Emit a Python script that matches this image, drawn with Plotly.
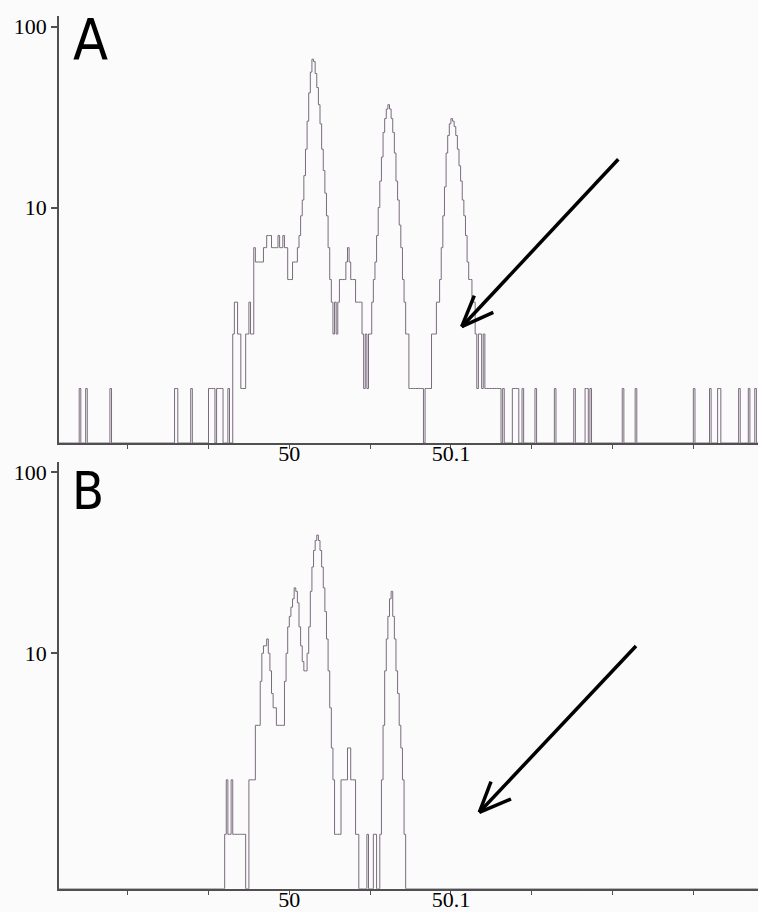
import numpy as np
import plotly.graph_objects as go

BIN_WIDTH = 0.001
X_MIN, X_MAX = 49.8575, 50.290
ZERO_LEVEL = 0.5  # empty bins are drawn on the log-axis floor

# ---------------- Panel A ----------------
a_dense_start = 49.965
a_dense_counts = [
    2, 3, 3, 2, 2, 1, 1, 1, 2, 2,
    3, 2, 2, 6, 5, 5, 5, 5, 5, 6,
    6, 7, 7, 7, 6, 6, 6, 6, 7, 6,
    6, 7, 6, 6, 4, 4, 4, 5, 5, 5,
    6, 7, 9, 11, 15, 21, 30, 43, 56, 66,
    64, 55, 46, 37, 29, 21, 16, 12, 9, 6,
    4, 3, 2, 3, 2, 3, 4, 4, 4, 4,
    5, 6, 5, 4, 4, 4, 3, 3, 3, 3,
    2, 1, 2, 1, 2, 2, 3, 4, 5, 7,
    10, 14, 19, 26, 31, 35, 37, 35, 31, 26,
    20, 14, 11, 8, 6, 4, 3, 2, 2, 1,
    1, 1, 1, 1, 1, 1, 1, 1, 0, 1,
    1, 1, 1, 2, 2, 2, 3, 3, 4, 6,
    9, 13, 20, 25, 29, 31, 30, 28, 25, 21,
    17, 14, 11, 9, 7, 5, 4, 4, 3, 3,
    2, 1, 2, 2, 1, 2, 1, 1, 1, 1,
    1, 1, 1, 1, 1, 1,
]
# isolated bins with a single count
a_single_freqs = [
    49.870, 49.874, 49.889, 49.929, 49.930, 49.939,
    49.950, 49.951, 49.952, 49.953, 49.955, 49.956, 49.957, 49.958, 49.962,
    50.132, 50.138, 50.139, 50.140, 50.141, 50.144, 50.152, 50.164, 50.176,
    50.183, 50.184, 50.186, 50.206, 50.214, 50.250, 50.260, 50.265, 50.266,
    50.278, 50.284, 50.288,
]

# ---------------- Panel B ----------------
b_dense_start = 49.960
b_dense_counts = [
    1, 2, 1, 1, 2, 1, 1, 1, 1, 1,
    1, 1, 1, 0, 0, 2, 2, 2, 2, 4,
    4, 4, 7, 10, 11, 11, 12, 10, 8, 6,
    5, 5, 4, 4, 4, 4, 4, 7, 10, 14,
    16, 18, 20, 23, 22, 19, 14, 11, 9, 8,
    8, 10, 14, 22, 30, 37, 42, 45, 42, 37,
    30, 23, 17, 12, 8, 5, 3, 2, 1, 1,
    1, 1, 2, 2, 2, 2, 3, 3, 2, 2,
    2, 1, 1, 0, 0, 0, 0, 0, 1, 0,
    0, 0, 1, 1, 0, 0, 1, 2, 4, 8,
    12, 16, 20, 22, 16, 12, 8, 6, 4, 3,
    2, 1,
]
b_single_freqs = []

# axis ticks
x_tickvals = [49.9, 49.95, 50.0, 50.05, 50.1, 50.15, 50.2, 50.25]
x_ticktext = ["", "", "50", "", "50.1", "", "", ""]
y_tickvals = [10, 100]
y_ticktext = ["10", "100"]
panel_labels = ["A", "B"]


def build_step(dense_start, dense_counts, single_freqs):
    n_bins = int(round((X_MAX - X_MIN) / BIN_WIDTH)) + 2
    origin = np.floor(X_MIN / BIN_WIDTH) * BIN_WIDTH
    counts = np.zeros(n_bins)
    s = int(round((dense_start - origin) / BIN_WIDTH))
    counts[s:s + len(dense_counts)] = dense_counts
    for f in single_freqs:
        counts[int(round((f - origin) / BIN_WIDTH))] = 1
    edges = origin + BIN_WIDTH * np.arange(n_bins + 1)
    vals = np.where(counts > 0, counts, ZERO_LEVEL)
    vals = np.append(vals, vals[-1])
    return edges, vals


LINE_COLOR = "#7a6b7c"
fig = go.Figure()
xa, ya = build_step(a_dense_start, a_dense_counts, a_single_freqs)
xb, yb = build_step(b_dense_start, b_dense_counts, b_single_freqs)
fig.add_trace(go.Scatter(x=xa, y=ya, mode="lines", xaxis="x", yaxis="y",
                         line=dict(shape="hv", color=LINE_COLOR, width=1),
                         showlegend=False, hoverinfo="skip"))
fig.add_trace(go.Scatter(x=xb, y=yb, mode="lines", xaxis="x2", yaxis="y2",
                         line=dict(shape="hv", color=LINE_COLOR, width=1),
                         showlegend=False, hoverinfo="skip"))

W, H = 758, 912
tick_font = dict(family="Liberation Serif, Times New Roman, serif", size=22, color="black")
AXIS_COLOR = "#505050"
x_dom = [59 / W, 1.0]
yA_dom = [1 - 443 / H, 1 - 16.2 / H]
yB_dom = [1 - 888.8 / H, 1 - 462 / H]
y_range = [np.log10(ZERO_LEVEL), 2.057]

xcommon = dict(range=[X_MIN, X_MAX], domain=x_dom, showgrid=False, zeroline=False,
               showline=True, linecolor=AXIS_COLOR, linewidth=1.5,
               tickmode="array", tickvals=x_tickvals, ticktext=x_ticktext,
               ticks="outside", ticklen=4, tickwidth=1, tickcolor=AXIS_COLOR,
               tickfont=tick_font, ticklabelstandoff=-14, automargin=False)
ycommon = dict(type="log", range=y_range, showgrid=False, zeroline=False,
               showline=True, linecolor=AXIS_COLOR, linewidth=1.5,
               tickmode="array", tickvals=y_tickvals, ticktext=y_ticktext,
               ticks="outside", ticklen=6, tickwidth=1.5, tickcolor=AXIS_COLOR,
               tickfont=tick_font, automargin=False)

fig.update_layout(
    width=W, height=H,
    margin=dict(l=0, r=0, t=0, b=0),
    paper_bgcolor="#fbfbfc", plot_bgcolor="#fbfbfc",
    xaxis=dict(**xcommon, anchor="y"),
    yaxis=dict(**ycommon, domain=yA_dom, anchor="x"),
    xaxis2=dict(**xcommon, anchor="y2"),
    yaxis2=dict(**ycommon, domain=yB_dom, anchor="x2"),
)

label_font = "Liberation Sans Narrow, DejaVu Sans Condensed, Liberation Sans, Arial, sans-serif"
fig.add_annotation(text=panel_labels[0], xref="paper", yref="paper",
                   x=71 / W, y=1 - 40 / H, xanchor="left", yanchor="middle",
                   showarrow=False, font=dict(family=label_font, size=57, color="black"))
fig.add_annotation(text=panel_labels[1], xref="paper", yref="paper",
                   x=70 / W, y=1 - 491 / H, xanchor="left", yanchor="middle",
                   showarrow=False, font=dict(family=label_font, size=52, color="black"))


def px_line(x0, y0, x1, y1):
    fig.add_shape(type="line", xref="paper", yref="paper",
                  x0=x0 / W, y0=1 - y0 / H, x1=x1 / W, y1=1 - y1 / H,
                  line=dict(color="black", width=3.5))


# arrow A
px_line(618.3, 159.3, 461.7, 326.7)
px_line(461.7, 326.7, 474.3, 295.7)
px_line(461.7, 326.7, 493.3, 312.3)
# arrow B
px_line(636, 646, 479.3, 812.3)
px_line(479.3, 812.3, 491, 781.7)
px_line(479.3, 812.3, 511, 799)

fig.write_html("out.html")
